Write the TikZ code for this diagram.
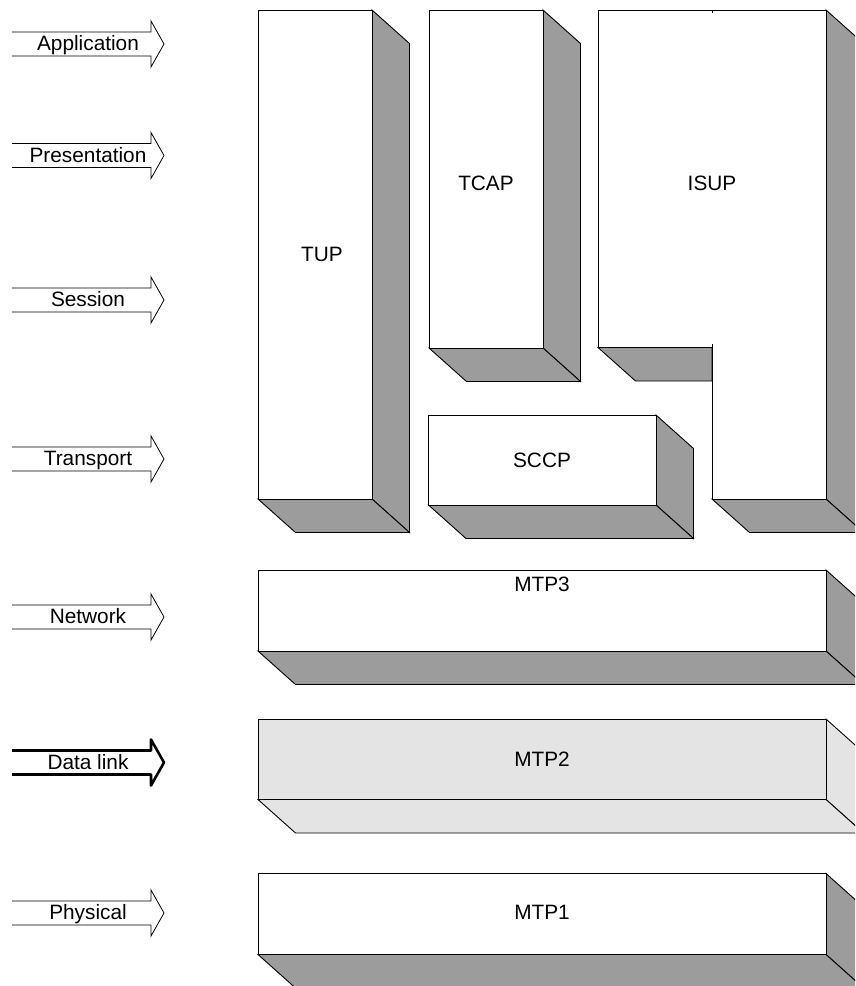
\documentclass[tikz,border=0pt]{standalone}
\usepackage{fontspec}
\setmainfont{Liberation Sans}
\definecolor{shade}{RGB}{156,156,156}
\definecolor{pale}{RGB}{228,228,228}
\tikzset{
  edge/.style={draw=black, line width=0.9pt, line join=miter},
  lbl/.style={anchor=base, inner sep=0pt, font=\fontsize{20.8}{24}\selectfont},
}
% depth of the extrusion
\def\dx{37.5}
\def\dy{33.5}
% 3D slab: front face (#1,#2)-(#3,#4), front fill #5, side fill #6
\newcommand{\slab}[6]{%
  \path[edge, fill=#6] (#3,#2) -- ++(\dx,\dy) -- (#3+\dx,#4+\dy) -- (#3,#4) -- cycle;
  \path[edge, fill=#6] (#1,#4) -- (#3,#4) -- (#3+\dx,#4+\dy) -- (#1+\dx,#4+\dy) -- cycle;
  \path[edge, fill=#5] (#1,#2) rectangle (#3,#4);
}
% open-ended layer arrow centred at height #2
\newcommand{\layerarrow}[4]{%
  \draw[#4] (12,#2-12) -- (151,#2-12) -- (151,#2-23) -- (164,#2) -- (151,#2+23) -- (151,#2+12) -- (12,#2+12);
  \node[lbl] (#1) at (88,#2+6.5) {#3};
}
\begin{document}
\begin{tikzpicture}[x=1pt, y=-1pt]
\useasboundingbox (0,0) rectangle (855,986);
\clip (0,0) rectangle (855,986);

% OSI layer arrows
\layerarrow{app}{44}{Application}{edge, line width=0.8pt}
\layerarrow{pres}{155.5}{Presentation}{edge, line width=0.8pt}
\layerarrow{sess}{300}{Session}{edge, line width=0.8pt}
\layerarrow{trans}{459}{Transport}{edge, line width=0.8pt}
\layerarrow{net}{617}{Network}{edge, line width=0.8pt}
\layerarrow{dlink}{762.5}{Data link}{edge, line width=2.6pt, line join=round}
\layerarrow{phys}{913}{Physical}{edge, line width=0.8pt}

% TUP
\slab{258}{10}{372}{499}{white}{shade}
\node[lbl] (tup) at (322,261.5) {TUP};

% TCAP
\slab{429}{10}{543}{348}{white}{shade}
\node[lbl] (tcap) at (486,190.5) {TCAP};

% SCCP
\slab{428.5}{415}{656}{505}{white}{shade}
\node[lbl] (sccp) at (542,467.5) {SCCP};

% ISUP: L-shaped block
\path[edge, fill=shade] (826,10) -- ++(\dx,\dy) -- (826+\dx,499+\dy) -- (826,499) -- cycle;
\path[edge, fill=shade] (712,499) -- (826,499) -- (826+\dx,499+\dy) -- (712+\dx,499+\dy) -- cycle;
\path[edge, fill=shade] (598,347.5) -- (712,347.5) -- (712,347.5+\dy) -- (598+\dx,347.5+\dy) -- cycle;
\path[edge, fill=white] (598,10) -- (826,10) -- (826,499) -- (712,499) -- (712,347.5) -- (598,347.5) -- cycle;
\draw[edge] (712,344) -- (712,349);
\draw[edge] (712,10) -- (712,13);
\node[lbl] (isup) at (712,190.5) {ISUP};

% MTP3
\slab{258}{570}{826}{651}{white}{shade}
\node[lbl] (mtp3) at (542,591.5) {MTP3};

% MTP2
\slab{258}{719}{826}{799.5}{pale}{pale}
\node[lbl] (mtp2) at (542,766.5) {MTP2};

% MTP1
\slab{258}{873.5}{826}{954.5}{white}{shade}
\node[lbl] (mtp1) at (542,919.5) {MTP1};
\end{tikzpicture}
\end{document}
